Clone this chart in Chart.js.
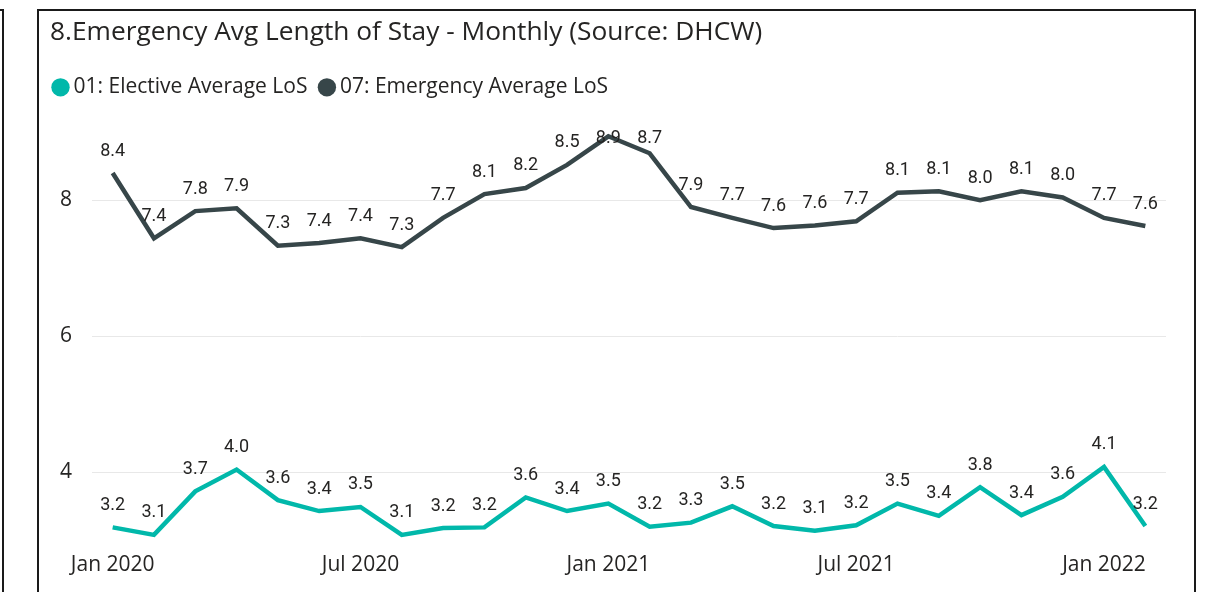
<!DOCTYPE html>
<html><head><meta charset="utf-8">
<script src="https://cdn.jsdelivr.net/npm/chart.js@4.4.1/dist/chart.umd.min.js"></script>
<style>
html,body{margin:0;padding:0;background:#fff;width:1216px;height:592px;overflow:hidden;}
#wrap{position:absolute;left:0;top:0;width:1216px;height:592px;}
.frame{position:absolute;box-sizing:border-box;border:2px solid #1a1a1a;pointer-events:none;}
</style></head><body>
<div id="wrap"><canvas id="c" width="1216" height="592"></canvas></div>
<div class="frame" style="left:-100px;top:9px;width:104px;height:700px"></div>
<div class="frame" style="left:37px;top:9px;width:1159px;height:700px"></div>
<script>
const months = ["Jan 2020","Feb 2020","Mar 2020","Apr 2020","May 2020","Jun 2020","Jul 2020","Aug 2020","Sep 2020","Oct 2020","Nov 2020","Dec 2020",
  "Jan 2021","Feb 2021","Mar 2021","Apr 2021","May 2021","Jun 2021","Jul 2021","Aug 2021","Sep 2021","Oct 2021","Nov 2021","Dec 2021",
  "Jan 2022","Feb 2022"];
const shownMonthLabels = ["Jan 2020","Jul 2020","Jan 2021","Jul 2021","Jan 2022"];
const electiveLoS = [3.19,3.08,3.72,4.04,3.59,3.43,3.49,3.08,3.18,3.19,3.63,3.43,3.54,3.20,3.26,3.50,3.21,3.14,3.22,3.54,3.36,3.78,3.37,3.64,4.08,3.21];
const emergencyLoS = [8.40,7.44,7.84,7.88,7.33,7.37,7.44,7.31,7.74,8.09,8.18,8.52,8.94,8.69,7.90,7.74,7.59,7.63,7.69,8.11,8.13,8.00,8.13,8.04,7.74,7.62];
const yTicks = [4,6,8];
const seriesNames = ["01: Elective Average LoS","07: Emergency Average LoS"];

const textColor = '#252423';

const pointValues = {
  id: 'pointValues',
  afterDatasetsDraw(chart) {
    const ctx = chart.ctx;
    const top = chart.chartArea.top;
    ctx.save();
    ctx.font = '18px Roboto';
    ctx.fillStyle = textColor;
    ctx.textAlign = 'center';
    ctx.textBaseline = 'middle';
    chart.data.datasets.forEach((ds, di) => {
      chart.getDatasetMeta(di).data.forEach((pt, i) => {
        const y = Math.max(pt.y - 22, top + 8);
        ctx.fillText(ds.data[i].toFixed(1), pt.x, y);
      });
    });
    ctx.restore();
  }
};

const legendSpacing = {
  id: 'legendSpacing',
  beforeInit(chart) {
    const lg = chart.legend;
    const orig = lg.fit;
    lg.fit = function () { orig.call(this); this.height += 22.3; };
  },
  afterLayout(chart) {
    chart.legend.left -= 9;
  }
};

new Chart(document.getElementById('c'), {
  type: 'line',
  data: {
    labels: months,
    datasets: [
      { label: seriesNames[0], data: electiveLoS, borderColor: '#01B8AA', backgroundColor: '#01B8AA',
        borderWidth: 4.5, pointRadius: 0, tension: 0, fill: false },
      { label: seriesNames[1], data: emergencyLoS, borderColor: '#374649', backgroundColor: '#374649',
        borderWidth: 4.5, pointRadius: 0, tension: 0, fill: false }
    ]
  },
  options: {
    responsive: false,
    animation: false,
    devicePixelRatio: 1,
    layout: { padding: { left: 50, right: 50, top: 6, bottom: 2.5 } },
    plugins: {
      title: {
        display: true, align: 'start',
        text: '8.Emergency Avg Length of Stay - Monthly (Source: DHCW)',
        color: textColor,
        font: { family: "'Open Sans'", size: 26.3, weight: 'normal' },
        padding: { top: 10.4, bottom: 11.9 }
      },
      legend: {
        display: true, align: 'start', position: 'top',
        labels: {
          usePointStyle: true, boxWidth: 5, boxHeight: 13, padding: 17,
          color: textColor,
          font: { family: "'Open Sans'", size: 21 },
          generateLabels(chart) {
            return chart.data.datasets.map((ds, i) => ({
              text: ds.label, fillStyle: ds.borderColor, strokeStyle: ds.borderColor,
              lineWidth: 0, pointStyle: 'circle', hidden: false, datasetIndex: i, fontColor: textColor
            }));
          }
        }
      },
      tooltip: { enabled: false }
    },
    scales: {
      x: {
        offset: true,
        grid: { display: false, drawTicks: false },
        border: { display: false },
        ticks: {
          autoSkip: false, maxRotation: 0, minRotation: 0, padding: 12,
          color: textColor,
          font: { family: "'Open Sans'", size: 21 },
          callback(v, i) { const l = months[i]; return shownMonthLabels.includes(l) ? l : ''; }
        }
      },
      y: {
        min: 3, max: 9.03,
        grid: { color: '#E8E8E8', lineWidth: 1, drawTicks: false },
        border: { display: false },
        afterBuildTicks(axis) { axis.ticks = yTicks.map(v => ({ value: v })); },
        afterFit(axis) { axis.width = 42; },
        ticks: {
          padding: 20, color: textColor,
          font: { family: "'Open Sans'", size: 21 },
          callback(v) { return String(v); }
        }
      }
    }
  },
  plugins: [pointValues, legendSpacing]
});
</script>
</body></html>
